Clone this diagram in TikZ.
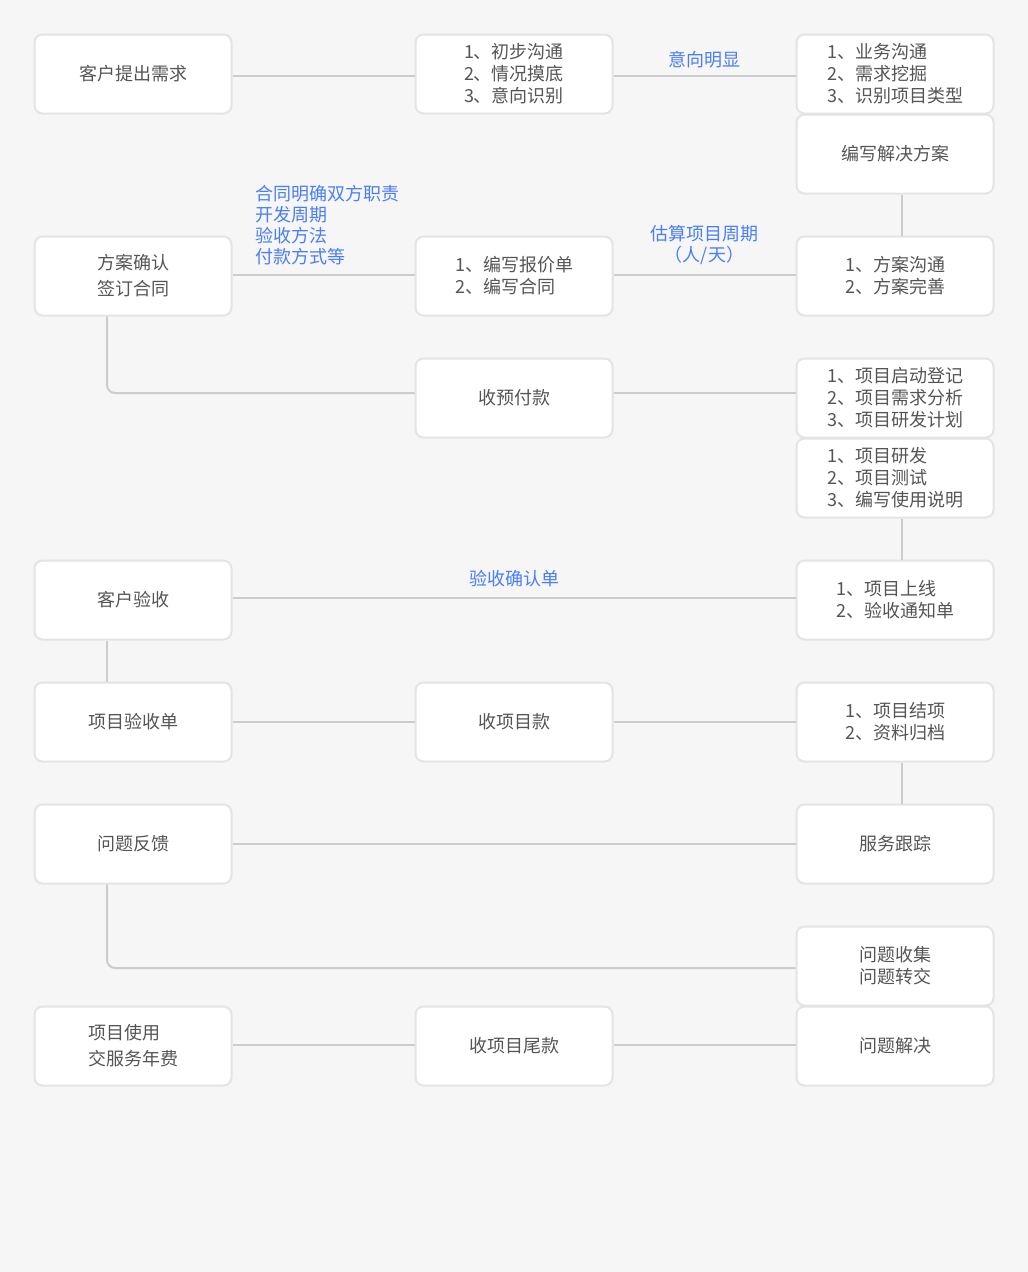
\documentclass[tikz,border=0pt]{standalone}
\usepackage{fontspec}
\setmainfont{Noto Sans CJK SC}
\definecolor{bg}{HTML}{F6F6F6}
\definecolor{bd}{HTML}{E4E4E4}
\definecolor{ln}{HTML}{CCCCCC}
\definecolor{tx}{HTML}{555555}
\definecolor{bl}{HTML}{4A7EF6}
\begin{document}
\begin{tikzpicture}[x=1pt,y=-1pt,
  box/.style={draw=bd, line width=2pt, fill=white, rounded corners=8pt,
    minimum width=197pt, minimum height=79pt, inner sep=0pt, align=left,
    text=tx, font=\fontsize{18}{22}\selectfont},
  tall/.style={font=\fontsize{18}{26}\selectfont},
  conn/.style={draw=ln, line width=2pt},
  lbl/.style={text=bl, font=\fontsize{18}{21}\selectfont, inner sep=0pt, align=left}]
\fill[bg] (0,0) rectangle (1028,1272);
\useasboundingbox (0,0) rectangle (1028,1272);

\node[box] (a1) at (133,74) {客户提出需求};
\node[box] (b1) at (514,74) {1、初步沟通\\2、情况摸底\\3、意向识别};
\node[box] (c1) at (895,74) {1、业务沟通\\2、需求挖掘\\3、识别项目类型};
\node[box] (c1b) at (895,154) {编写解决方案};
\node[box,tall] (a2) at (133,276) {方案确认\\签订合同};
\node[box] (b2) at (514,276) {1、编写报价单\\2、编写合同};
\node[box] (c2) at (895,276) {1、方案沟通\\2、方案完善};
\node[box] (b3) at (514,398) {收预付款};
\node[box] (c3) at (895,398) {1、项目启动登记\\2、项目需求分析\\3、项目研发计划};
\node[box] (c3b) at (895,478) {1、项目研发\\2、项目测试\\3、编写使用说明};
\node[box] (a4) at (133,600) {客户验收};
\node[box] (c4) at (895,600) {1、项目上线\\2、验收通知单};
\node[box] (a5) at (133,722) {项目验收单};
\node[box] (b5) at (514,722) {收项目款};
\node[box] (c5) at (895,722) {1、项目结项\\2、资料归档};
\node[box] (a6) at (133,844) {问题反馈};
\node[box] (c6) at (895,844) {服务跟踪};
\node[box] (c7) at (895,966) {问题收集\\问题转交};
\node[box,tall] (a8) at (133,1046) {项目使用\\交服务年费};
\node[box] (b8) at (514,1046) {收项目尾款};
\node[box] (c8) at (895,1046) {问题解决};

% row 1
\draw[conn] ([yshift=-2pt]a1.east) -- ([yshift=-2pt]b1.west);
\draw[conn] ([yshift=-2pt]b1.east) -- node[lbl, yshift=16pt]{意向明显} ([yshift=-2pt]c1.west);
\draw[conn] ([xshift=7pt]c1b.south) -- ([xshift=7pt]c2.north);
% row 2
\draw[conn] ([yshift=1pt]a2.east) -- node[lbl, at start, anchor=west, xshift=22pt, yshift=50pt]{合同明确双方职责\\开发周期\\验收方法\\付款方式等} ([yshift=1pt]b2.west);
\draw[conn] ([yshift=1pt]b2.east) -- node[lbl, align=center, yshift=30pt]{估算项目周期\\（人/天）} ([yshift=1pt]c2.west);
% row 3
\draw[conn, rounded corners=8pt] ([xshift=-26pt]a2.south) |- ([yshift=5pt]b3.west);
\draw[conn] ([yshift=5pt]b3.east) -- ([yshift=5pt]c3.west);
\draw[conn] ([xshift=7pt]c3b.south) -- ([xshift=7pt]c4.north);
% row 4
\draw[conn] ([yshift=2pt]a4.east) -- node[lbl, yshift=19pt]{验收确认单} ([yshift=2pt]c4.west);
\draw[conn] ([xshift=-26pt]a4.south) -- ([xshift=-26pt]a5.north);
% row 5
\draw[conn] (a5.east) -- (b5.west);
\draw[conn] (b5.east) -- (c5.west);
\draw[conn] ([xshift=7pt]c5.south) -- ([xshift=7pt]c6.north);
% row 6
\draw[conn] (a6.east) -- (c6.west);
\draw[conn, rounded corners=8pt] ([xshift=-26pt]a6.south) |- ([yshift=-2pt]c7.west);
% row 8
\draw[conn] ([yshift=1pt]a8.east) -- ([yshift=1pt]b8.west);
\draw[conn] ([yshift=1pt]b8.east) -- ([yshift=1pt]c8.west);
\end{tikzpicture}
\end{document}
